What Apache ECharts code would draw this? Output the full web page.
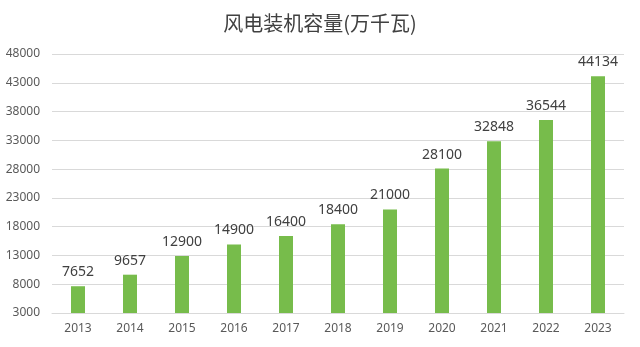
<!DOCTYPE html>
<html><head><meta charset="utf-8">
<script src="https://cdn.jsdelivr.net/npm/echarts@6/dist/echarts.min.js"></script>
<style>html,body{margin:0;padding:0;background:#fff}#c{width:640px;height:347px}</style>
</head><body><div id="c"></div>
<script>
const years = ['2013','2014','2015','2016','2017','2018','2019','2020','2021','2022','2023'];
const capacity = [7652, 9657, 12900, 14900, 16400, 18400, 21000, 28100, 32848, 36544, 44134];
const chartTitle = '风电装机容量(万千瓦)';
const yMin = 3000, yMax = 48000, yStep = 5000;

const chart = echarts.init(document.getElementById('c'), null, {renderer:'canvas'});
chart.setOption({
  animation: false,
  backgroundColor: '#ffffff',
  title: {
    text: chartTitle, left: 'center', top: 8,
    textStyle: {fontFamily: '"Noto Sans CJK SC"', fontSize: 20, fontWeight: 'normal', color: '#404040'}
  },
  grid: {left: 52, right: 16, top: 54, bottom: 34, containLabel: false},
  xAxis: {
    type: 'category', data: years,
    axisLine: {show: true, lineStyle: {color: '#d9d9d9'}},
    axisTick: {show: false},
    axisLabel: {color: '#595959', fontSize: 12, fontFamily: '"Noto Sans", sans-serif', margin: 10}
  },
  yAxis: {
    type: 'value', min: yMin, max: yMax, interval: yStep,
    axisLine: {show: false}, axisTick: {show: false},
    axisLabel: {color: '#595959', fontSize: 12, fontFamily: '"Noto Sans", sans-serif', margin: 12,
      formatter: v => String(v)},
    splitLine: {lineStyle: {color: '#d9d9d9', width: 1}}
  },
  series: [{
    type: 'bar', data: capacity, barWidth: 14,
    itemStyle: {color: '#77bc4b'},
    label: {show: true, position: 'top', distance: 7, color: '#404040', fontSize: 14, fontFamily: '"Noto Sans", sans-serif'}
  }]
});
</script></body></html>
